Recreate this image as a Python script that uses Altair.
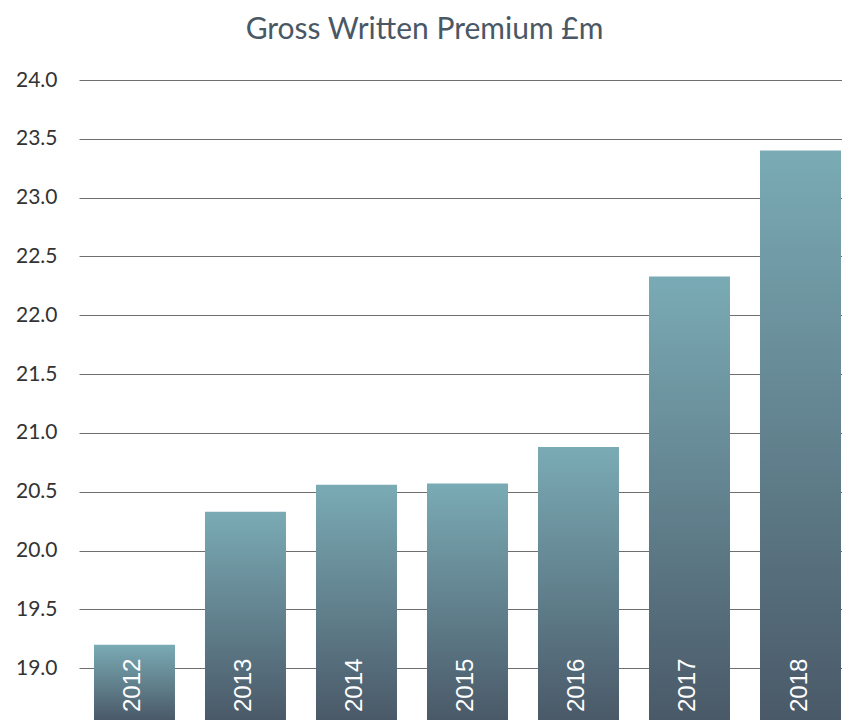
import altair as alt
import pandas as pd

years = ["2012", "2013", "2014", "2015", "2016", "2017", "2018"]
premium = [19.20, 20.33, 20.56, 20.57, 20.88, 22.33, 23.40]
y_ticks = [19.0, 19.5, 20.0, 20.5, 21.0, 21.5, 22.0, 22.5, 23.0, 23.5, 24.0]
title_text = "Gross Written Premium £m"

Y_MIN = 18.56
Y_MAX = 24.0

df = pd.DataFrame({"year": years, "value": premium})

x_enc = alt.X("year:N", sort=years, axis=None,
              scale=alt.Scale(paddingInner=0.2703, paddingOuter=0.072, align=0.9375))

y_scale = alt.Scale(domain=[Y_MIN, Y_MAX], zero=False, nice=False)

bars = alt.Chart(df).mark_bar(
    color=alt.Gradient(
        gradient="linear",
        stops=[alt.GradientStop(color="#7aabb5", offset=0),
               alt.GradientStop(color="#4a5968", offset=1)],
        x1=0, x2=0, y1=0, y2=1,
    )
).encode(
    x=x_enc,
    y=alt.Y("value:Q", scale=y_scale, title=None,
            axis=alt.Axis(values=y_ticks, format=".1f", domain=False, ticks=False,
                          grid=True, gridColor="#6e6e6e", gridWidth=1,
                          labelFont="Lato", labelFontSize=21, labelColor="#333333",
                          labelPadding=22)),
    y2=alt.datum(Y_MIN),
)

labels = alt.Chart(df).mark_text(
    angle=270, align="left", baseline="middle", dx=8, dy=-1,
    font="Liberation Sans", fontSize=24, color="white"
).encode(
    x=x_enc,
    y=alt.datum(Y_MIN),
    text="year:N",
)

chart = alt.layer(bars, labels).properties(
    width=763,
    height=640,
    autosize=alt.AutoSizeParams(type="none"),
    padding={"left": 71, "top": 72, "right": 0, "bottom": 0},
    title=alt.TitleParams(text=title_text, font="Lato", fontSize=30, fontWeight="normal",
                          color="#4a5866", anchor="middle", offset=24, dx=-36),
    background="white",
).configure_view(strokeWidth=0)

chart.save("out.html", embed_options={"renderer": "svg", "actions": False})
